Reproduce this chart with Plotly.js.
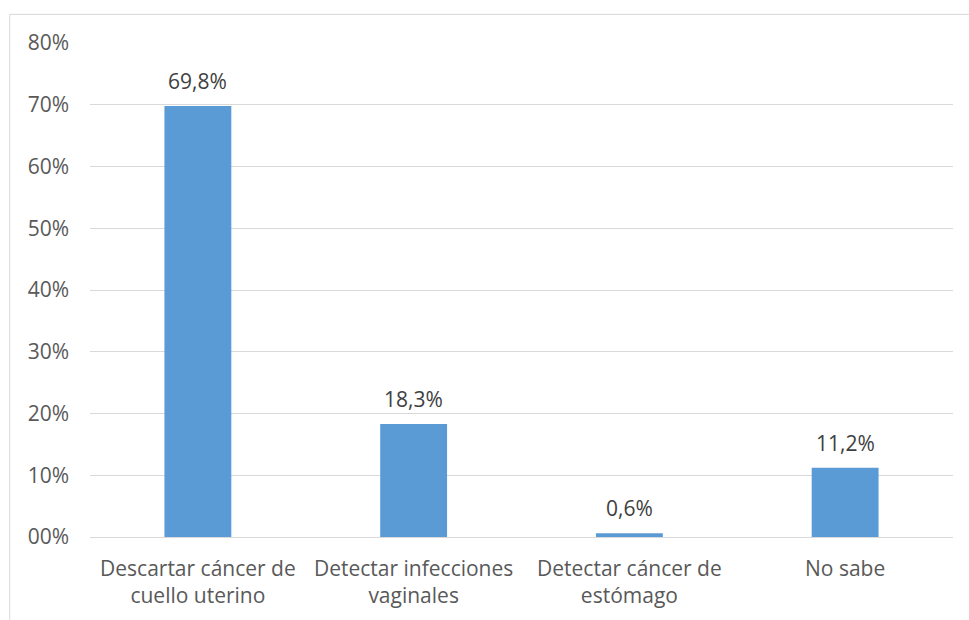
<!DOCTYPE html>
<html>
<head>
<meta charset="utf-8">
<script src="https://cdn.plot.ly/plotly-3.0.1.min.js"></script>
<style>
  body { margin: 0; background: #fff; }
  #plot { width: 969px; height: 620px; }
</style>
</head>
<body>
<div id="plot"></div>
<script>
// categories and values (%)
var categories = ["Descartar cáncer de<br>cuello uterino", "Detectar infecciones<br>vaginales", "Detectar cáncer de<br>estómago", "No sabe"];
var values = [69.8, 18.3, 0.6, 11.2];
var valueLabels = ["69,8%", "18,3%", "0,6%", "11,2%"];
var tickVals = [0, 10, 20, 30, 40, 50, 60, 70, 80];
var tickText = ["00%", "10%", "20%", "30%", "40%", "50%", "60%", "70%", "80%"];

var trace1 = {
  x: categories,
  y: values,
  type: "bar",
  marker: { color: "#5b9bd5" },
  hoverinfo: "none"
};

// value labels above the bars
var labels = categories.map(function (c, i) {
  return {
    x: c,
    y: values[i],
    text: valueLabels[i],
    showarrow: false,
    yanchor: "middle",
    yshift: 25,
    font: { size: 21, color: "#404040" }
  };
});

var layout = {
  width: 969,
  height: 620,
  margin: { l: 90, r: 16, t: 43, b: 83 },
  paper_bgcolor: "#fff",
  plot_bgcolor: "#fff",
  bargap: 0.69,
  showlegend: false,
  font: { family: "Open Sans, sans-serif", size: 21, color: "#595959" },
  xaxis: {
    showline: false,
    ticks: "",
    ticklabelstandoff: 17,
    tickfont: { size: 21, color: "#595959" },
    fixedrange: true
  },
  yaxis: {
    range: [0, 80],
    tickvals: tickVals,
    ticktext: tickText,
    showgrid: true,
    gridcolor: "#d9d9d9",
    gridwidth: 1,
    zeroline: true,
    zerolinecolor: "#d9d9d9",
    showline: false,
    ticks: "",
    ticklabelstandoff: 20,
    tickfont: { size: 21, color: "#595959" },
    fixedrange: true
  },
  annotations: labels,
  shapes: [{
    type: "rect",
    xref: "paper", yref: "paper",
    x0: -0.093, x1: 1.1,
    y0: -0.3, y1: 1.058,
    line: { color: "#d9d9d9", width: 1 },
    layer: "below"
  }]
};

Plotly.newPlot("plot", [trace1], layout, { displayModeBar: false, staticPlot: true });
</script>
</body>
</html>
